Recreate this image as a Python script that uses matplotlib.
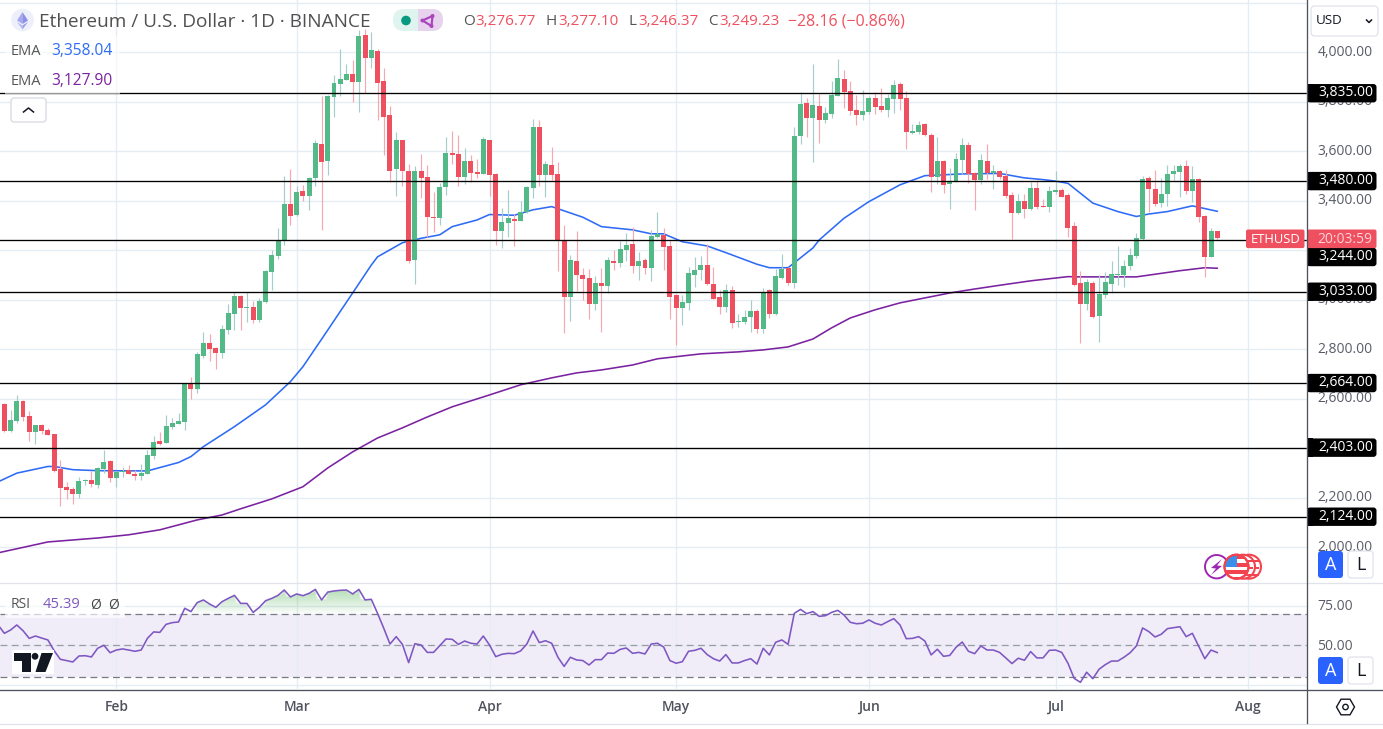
import numpy as np
import pandas as pd
import matplotlib
matplotlib.use('Agg')
import matplotlib.pyplot as plt
from matplotlib.patches import Rectangle, FancyBboxPatch, Circle, Polygon, RegularPolygon

plt.rcParams['font.family'] = ['Open Sans', 'DejaVu Sans']

start_date = '2024-01-14'
opens = [2580,2470,2511,2592,2531,2466,2495,2474,2458,2317,2244,2236,2216,2268,2272,2252,2317,2349,
 2280,2305,2313,2297,2289,2297,2369,2430,2422,2487,2499,2507,2664,2640,2773,2826,2806,2786,2879,2943,3016,2967,2971,2919,2992,3113,3178,3242,3387,
 3343,3440,3420,3492,3630,3561,3820,3872,3889,3913,3880,4070,3977,4006,3884,3747,3529,3646,3521,3161,3521,3497,3335,3331,3456,3594,3589,3497,3561,3517,3509,
 3646,3509,3278,3311,3327,3319,3355,3452,3699,3505,3545,3509,3238,3012,3157,3101,3088,2983,3068,3056,3157,3149,3202,3226,3137,3161,3129,3254,3262,3218,
 3020,2967,2987,3101,3121,3141,3064,3012,2971,3040,2911,2911,2931,2955,2882,3040,2943,3088,3129,3068,3662,3796,3735,3784,3727,3751,3824,3893,3844,3767,3747,
 3759,3816,3784,3767,3812,3873,3816,3675,3679,3711,3666,3497,3561,3468,3481,3565,3626,3513,3485,3561,3513,3521,3501,3424,3351,3400,3367,3452,3380,3376,
 3436,3444,3424,3299,3069,2984,3069,2935,3020,3065,3101,3101,3137,3178,3246,3493,3448,3392,3428,3509,3517,3541,3440,3489,3339,3174,3276.77]
highs = [2585,2555,2616,2596,2551,2495,2497,2483,2460,2353,2264,2244,2285,2275,2309,2325,2394,2353,
 2309,2325,2333,2313,2337,2394,2450,2466,2535,2523,2543,2666,2689,2790,2870,2862,2808,2899,2984,3032,3020,3032,2996,3008,3121,3202,3291,3501,3529,
 3460,3464,3497,3646,3824,3826,3909,4014,3953,3969,4091,4095,4083,4014,3937,3783,3678,3648,3549,3541,3589,3545,3436,3472,3658,3682,3666,3614,3585,3569,3658,
 3648,3511,3371,3444,3347,3400,3460,3731,3727,3561,3618,3557,3303,3181,3278,3129,3125,3097,3129,3173,3202,3238,3270,3295,3194,3169,3282,3355,3291,3242,
 3022,3020,3133,3173,3177,3226,3133,3040,3064,3056,2943,2959,3000,2963,3048,3044,3125,3186,3133,3699,3840,3816,3953,3832,3780,3885,3974,3929,3885,3828,3848,
 3824,3840,3856,3832,3889,3881,3844,3711,3723,3715,3675,3658,3565,3533,3594,3654,3638,3517,3590,3630,3545,3525,3525,3436,3428,3428,3477,3485,3408,3461,
 3521,3452,3432,3315,3117,3085,3077,3101,3113,3157,3218,3161,3210,3271,3501,3501,3525,3493,3545,3545,3549,3566,3541,3493,3343,3291,3277.1]
lows = [2468,2468,2504,2511,2430,2418,2458,2454,2305,2167,2196,2175,2200,2252,2244,2240,2301,2264,
 2244,2285,2297,2272,2272,2297,2357,2414,2420,2478,2497,2474,2600,2624,2765,2753,2721,2765,2862,2879,2879,2911,2907,2911,2988,3040,3166,3222,3303,
 3341,3400,3363,3462,3282,3505,3739,3824,3887,3800,3759,3836,3937,3727,3585,3476,3420,3460,3149,3064,3412,3254,3274,3303,3424,3549,3460,3468,3476,3492,3507,
 3420,3222,3210,3254,3218,3317,3353,3412,3460,3416,3484,3117,2866,2915,3036,3000,2923,2959,2870,3028,3121,3133,3157,3109,3080,3105,3076,3252,3121,2923,
 2818,2899,2959,3052,3080,3062,3002,2943,2951,2886,2890,2903,2870,2866,2866,2927,2939,3086,3060,3048,3630,3658,3557,3634,3715,3735,3822,3776,3747,3707,3727,
 3751,3751,3759,3739,3755,3767,3610,3671,3671,3664,3436,3468,3432,3367,3477,3509,3473,3363,3468,3489,3448,3489,3412,3246,3349,3331,3365,3367,3374,3355,
 3428,3414,3254,3058,2826,2959,2927,2830,3008,3028,3060,3052,3121,3170,3244,3355,3380,3376,3380,3485,3416,3428,3396,3315,3093,3172,3246.37]
closes = [2470,2515,2592,2527,2466,2495,2470,2454,2309,2240,2232,2216,2268,2272,2256,2321,2345,2280,
 2305,2309,2297,2289,2301,2373,2426,2418,2491,2503,2511,2664,2640,2782,2826,2802,2786,2883,2947,3016,2967,2971,2919,2996,3117,3182,3242,3387,3339,
 3436,3420,3492,3634,3557,3824,3876,3893,3913,3880,4066,3977,4010,3876,3739,3521,3646,3521,3157,3521,3492,3335,3331,3456,3594,3585,3497,3561,3513,3509,3650,
 3505,3278,3315,3331,3319,3355,3456,3699,3505,3549,3505,3242,3012,3161,3101,3084,2983,3068,3056,3161,3149,3206,3222,3137,3157,3129,3258,3266,3214,3012,
 2967,2992,3109,3121,3141,3064,3004,2971,3040,2907,2915,2931,2955,2882,3032,2943,3097,3125,3068,3662,3792,3735,3788,3727,3755,3828,3897,3840,3763,3747,3763,
 3816,3780,3767,3816,3869,3812,3679,3683,3707,3666,3497,3561,3464,3481,3570,3626,3509,3485,3565,3513,3521,3497,3420,3351,3400,3367,3452,3376,3376,3440,
 3444,3416,3291,3060,2984,3073,2931,3024,3073,3105,3105,3137,3182,3250,3489,3448,3388,3428,3509,3521,3541,3440,3489,3335,3174,3279,3249.23]

ema_fast_days = [-1,2,7,8,11,15,23,28,30,32,37,42,46,48,51,56,59,60,64,67,70,72,76,78,82,85,88,93,96,101,104,106,109,113,116,121,123,126,130,131,135,139,144,148,154,160,164,167,169,171,175,179,182,184,187,191,195]
ema_fast = [2265,2300,2327,2327,2314,2310,2309,2343,2367,2407,2488,2576,2670,2730,2841,3028,3141,3174,3231,3249,3263,3296,3323,3345,3342,3364,3377,3334,3296,3283,3267,3267,3235,3218,3191,3144,3130,3130,3210,3242,3330,3397,3465,3502,3509,3511,3493,3486,3480,3471,3391,3357,3337,3347,3357,3380,3358.04]
ema_slow_days = [-1,7,15,20,25,31,35,38,43,48,52,56,60,64,68,72,78,83,88,92,96,101,105,112,118,122,126,130,133,136,140,144,148,152,156,160,165,171,173,182,189,193,195]
ema_slow = [1978,2022,2038,2051,2071,2111,2131,2156,2196,2245,2321,2386,2442,2483,2527,2568,2616,2657,2685,2705,2717,2737,2762,2782,2790,2798,2810,2842,2887,2927,2960,2988,3008,3028,3044,3059,3077,3094,3093,3093,3118,3130,3127.9]

rsi_values = [62.9,57.6,59.7,62.9,59.3,54.4,55.9,54.6,53.4,46.6,41.1,40.3,39.4,43.2,43.4,42.6,48.1,50.0,45.3,47.0,47.7,47.0,46.2,47.0,54.4,58.5,58.2,63.3,64.4,64.8,
 73.5,71.4,77.1,78.8,76.2,74.1,77.7,79.8,81.7,76.6,76.6,70.9,74.1,78.3,79.8,81.7,85.1,80.7,82.6,81.5,83.0,85.5,78.8,83.8,84.5,84.9,85.1,82.6,85.5,78.8,79.2,70.3,60.8,50.8,55.5,50.6,39.0,51.0,50.2,45.5,45.5,49.8,54.0,53.8,50.6,
 52.7,51.3,50.8,55.9,50.2,42.8,44.3,44.9,44.7,46.4,50.8,59.1,51.7,52.9,51.3,42.4,36.6,42.4,40.7,40.3,37.5,40.9,40.9,45.1,44.9,47.4,48.3,44.9,45.5,44.5,
 50.8,51.3,48.9,40.3,38.6,39.6,46.2,46.8,48.1,44.1,41.5,40.0,44.1,38.8,38.8,40.3,41.5,38.1,48.1,43.9,51.9,53.4,50.6,70.3,72.8,70.1,71.4,68.4,68.8,70.9,
 72.2,69.2,64.6,63.7,64.0,66.1,64.0,62.9,65.0,66.9,62.9,54.2,54.4,55.5,
 52.7,43.9,47.5,43.0,43.6,48.7,52.1,46.2,44.7,49.6,47.0,47.0,45.5,42.0,38.4,41.8,40.5,46.0,42.0,42.0,46.8,47.0,45.5,38.6,29.0,26.5,32.9,28.8,34.8,37.7,40.0,40.0,42.4,45.3,49.6,61.0,58.7,55.3,57.0,60.6,61.2,61.8,55.5,57.6,49.6,41.5,47.0,45.39]

levels = [3835, 3480, 3244, 3033, 2664, 2403, 2124]
level_label_shift = {3244: 17.5}
price_ticks = [2000,2200,2400,2600,2800,3000,3200,3400,3600,3800,4000,4200]
rsi_ticks = [25, 50, 75]
rsi_bands = [70, 50, 30]
month_dates = ['2024-02-01','2024-03-01','2024-04-01','2024-05-01','2024-06-01','2024-07-01','2024-08-01']
month_labels = ['Feb','Mar','Apr','May','Jun','Jul','Aug']

W, H = 1383, 729
GREEN, RED = '#53B987', '#EF5060'
WG, WR = '#A6CDCA', '#F6A8B2'
GRID = '#E4EDF3'
TXT = '#5A5D68'
BLUE, PURPLE = '#2E6BF6', '#7B22A0'

fig = plt.figure(figsize=(W/100, H/100), dpi=100, facecolor='white')
def box(x0, y0, x1, y1):
    return [x0/W, 1-y1/H, (x1-x0)/W, (y1-y0)/H]

PANE_R = 1306.5
ax = fig.add_axes(box(0, 0, PANE_R, 583))
rs = fig.add_axes(box(0, 584, PANE_R, 689))
ui = fig.add_axes([0, 0, 1, 1], zorder=10)
ui.set_xlim(0, W); ui.set_ylim(H, 0); ui.axis('off'); ui.patch.set_alpha(0)

xlim = (-0.698, 209.35)
t0 = pd.Timestamp(start_date)
month_pos = [(pd.Timestamp(d)-t0).days for d in month_dates]
days = np.arange(len(opens))
o, h, l, c = map(np.array, (opens, highs, lows, closes))
up = c >= o

ax.vlines(days[up], l[up], h[up], color=WG, lw=0.85, zorder=2)
ax.vlines(days[~up], l[~up], h[~up], color=WR, lw=0.85, zorder=2)
ax.bar(days[up], np.abs(c-o)[up], bottom=np.minimum(o, c)[up], width=0.8, color=GREEN, lw=0, zorder=3)
ax.bar(days[~up], np.abs(c-o)[~up], bottom=np.minimum(o, c)[~up], width=0.8, color=RED, lw=0, zorder=3)
ax.plot(ema_fast_days, ema_fast, color=BLUE, lw=1.15, zorder=1.5)
ax.plot(ema_slow_days, ema_slow, color=PURPLE, lw=1.15, zorder=1.5)
for v in levels:
    ax.axhline(v, color='black', lw=0.95, zorder=5)

ymax = 4000 + 52.4/0.2475
ymin = 4000 - (583-52.4)/0.2475
ax.set_xlim(*xlim); ax.set_ylim(ymin, ymax)
ax.set_xticks(month_pos); ax.set_yticks(price_ticks)
ax.grid(True, color=GRID, lw=1.0, zorder=0); ax.set_axisbelow(True)
ax.tick_params(length=0, labelbottom=False, labelleft=False)
for s in ax.spines.values(): s.set_visible(False)

# RSI pane
rsi_x = np.arange(len(rsi_values)) - 1
rsi = np.array(rsi_values)
rs.axhspan(rsi_bands[2], rsi_bands[0], color='#7E57C2', alpha=0.11, lw=0, zorder=0.5)
for i, lev in enumerate(np.arange(70, 89, 1.0)):
    top = np.minimum(rsi, lev+1)
    rs.fill_between(rsi_x, lev, top, where=rsi > lev, interpolate=True, color='#4CAF50',
                    alpha=min(0.42, 0.03+0.40*(i/15)), lw=0, zorder=0.8)
rs.plot(rsi_x, rsi, color='#7E57C2', lw=1.15, zorder=3)
for v, col in zip(rsi_bands, ['#787B86', '#9A9CA5', '#787B86']):
    rs.axhline(v, color=col, lw=0.9, dashes=(5.5, 3.5), zorder=2)
rs.set_xlim(*xlim)
rs.set_ylim(50-(689-645.3)/1.575, 50+(645.3-584)/1.575)
rs.set_xticks(month_pos, month_labels)
rs.set_yticks(rsi_ticks)
rs.grid(True, color=GRID, lw=1.0, zorder=0); rs.set_axisbelow(True)
rs.tick_params(axis='x', length=0, pad=7.6, labelsize=10, labelcolor='#50535E')
for t in rs.get_xticklabels(): t.set_fontweight('semibold')
rs.tick_params(axis='y', length=0, labelleft=False)
for s in rs.spines.values(): s.set_visible(False)

def py(p): return (ymax-p)/(ymax-ymin)*583
def ry(v): return 645.3-(v-50)*1.575

# frame lines
ui.plot([0, W], [583.4, 583.4], color='#E0E3EB', lw=0.9, zorder=1)
ui.plot([0, W], [689.5, 689.5], color='#50535E', lw=0.95, zorder=6)
ui.plot([0, W], [723.5, 723.5], color='#E0E3EB', lw=0.9, zorder=1)
ui.plot([PANE_R, PANE_R], [0, 723], color='#50535E', lw=0.95, zorder=6)
ui.add_patch(Rectangle((PANE_R+0.6, 0), W-PANE_R, 583, color='white', zorder=0.5))
ui.add_patch(Rectangle((PANE_R+0.6, 584), W-PANE_R, 105, color='white', zorder=0.5))

# price scale text
for v in price_ticks[:-1]:
    ui.text(1317.5, py(v), f'{v:,.2f}', fontsize=10, color=TXT, va='center', zorder=2)
for v in rsi_ticks[1:]:
    ui.text(1317.5, ry(v)+1, f'{v:.2f}', fontsize=10, color=TXT, va='center', zorder=2)

# level badges
for v in levels:
    yc = py(v) + level_label_shift.get(v, 0)
    ui.add_patch(FancyBboxPatch((1307, yc-9.2), 69.5, 18.4, boxstyle='round,pad=0,rounding_size=3',
                                fc='black', ec='none', zorder=3))
    ui.add_patch(Rectangle((1307, yc-9.2), 6, 18.4, fc='black', ec='none', zorder=3))
    ui.text(1318, yc-0.5, f'{v:,.2f}', fontsize=10, color='white', va='center', zorder=4)

# last price tag
ui.add_patch(FancyBboxPatch((1246, 229.5), 58.5, 18.6, boxstyle='round,pad=0,rounding_size=2',
                            fc=RED, ec='none', zorder=5))
ui.text(1275.5, 239, 'ETHUSD', fontsize=9.4, color='white', ha='center', va='center', zorder=6)
ui.add_patch(FancyBboxPatch((1307, 229.5), 69.5, 18.6, boxstyle='round,pad=0,rounding_size=2',
                            fc=RED, ec='none', zorder=5))
ui.text(1345, 239, '20:03:59', fontsize=10, color='#FBD3D8', ha='center', va='center', zorder=6)

# header
ui.add_patch(Rectangle((5, 64), 115, 30, fc='white', alpha=0.6, ec='none', zorder=1))
ui.add_patch(Rectangle((5, 36), 115, 28, fc='white', alpha=0.6, ec='none', zorder=1))
ui.add_patch(Circle((22.5, 20), 11.3, fc='#EDEFFA', ec='none'))
ui.add_patch(Polygon([(22.5, 12), (17, 20.5), (22.5, 24)], fc='#A7A9EE', ec='none'))
ui.add_patch(Polygon([(22.5, 12), (28, 20.5), (22.5, 24)], fc='#8C8FE6', ec='none'))
ui.add_patch(Polygon([(17, 22), (22.5, 29.5), (22.5, 25.5)], fc='#B9BBF2', ec='none'))
ui.add_patch(Polygon([(28, 22), (22.5, 29.5), (22.5, 25.5)], fc='#9A9DEA', ec='none'))
ui.text(39, 22, 'Ethereum / U.S. Dollar · 1D · BINANCE', fontsize=13.7, color='#505050', va='center')
ui.add_patch(FancyBboxPatch((393, 9), 50, 22, boxstyle='round,pad=0,rounding_size=11', fc='#DFF3EF', ec='none'))
ui.add_patch(FancyBboxPatch((418, 9), 25, 22, boxstyle='round,pad=0,rounding_size=11', fc='#E8D3EE', ec='none'))
ui.add_patch(Rectangle((418, 9), 10, 22, fc='#E8D3EE', ec='none'))
ui.add_patch(Circle((406, 20.5), 4.8, fc='#089981', ec='none'))
tri = [(422.5, 20.5), (432.5, 16), (431.5, 26)]
ui.add_patch(Polygon(tri, fc='none', ec='#AB47BC', lw=1.6))
for p in tri:
    ui.add_patch(Circle(p, 2.0, fc='#AB47BC', ec='none'))

OHLC = [('O', 463, '3,276.77', 475.5), ('H', 545.5, '3,277.10', 558), ('L', 628, '3,246.37', 638.5), ('C', 708, '3,249.23', 719.5)]
for a, xa, b, xb in OHLC:
    ui.text(xa, 21, a, fontsize=11, color='#555555', va='center')
    ui.text(xb, 21, b, fontsize=11, color='#F0505F', va='center')
ui.text(788, 21, '−28.16 (−0.86%)', fontsize=11.45, color='#F0505F', va='center')

ui.text(11, 51, 'EMA', fontsize=10.5, color='#555555', va='center', zorder=3)
ui.text(51, 51, '3,358.04', fontsize=11.2, color=BLUE, va='center', zorder=3)
ui.text(11, 81, 'EMA', fontsize=10.5, color='#555555', va='center', zorder=3)
ui.text(51, 81, '3,127.90', fontsize=11.2, color=PURPLE, va='center', zorder=3)
ui.add_patch(FancyBboxPatch((11, 98), 35, 24, boxstyle='round,pad=0,rounding_size=3', fc='white', ec='#D5D8E2', lw=0.9, zorder=3))
ui.plot([23.5, 28.5, 33.5], [112, 108, 112], color='#131722', lw=1.1, zorder=4)

ui.add_patch(Rectangle((5, 592), 120, 26, fc='white', alpha=0.65, ec='none', zorder=1))
ui.text(11, 605, 'RSI', fontsize=10, color='#555555', va='center', zorder=3)
ui.text(43, 604.5, '45.39', fontsize=10.6, color='#7E57C2', va='center', zorder=3)
ui.text(90, 605, 'Ø', fontsize=10, color='#444444', va='center', zorder=3)
ui.text(108, 605, 'Ø', fontsize=10, color='#444444', va='center', zorder=3)

# TradingView logo
ui.add_patch(Rectangle((12, 650), 42, 24, fc='white', ec='none', zorder=3))
ui.add_patch(Polygon([(14, 653), (31, 653), (31, 672), (22, 672), (22, 661), (14, 661)], fc='#131722', ec='none', zorder=4))
ui.add_patch(Circle((35, 656.3), 3.4, fc='#131722', ec='none', zorder=4))
ui.add_patch(Polygon([(41.5, 653), (53, 653), (45.5, 672), (35.5, 672)], fc='#131722', ec='none', zorder=4))

# right controls
ui.add_patch(FancyBboxPatch((1311, 6), 67, 30, boxstyle='round,pad=0,rounding_size=4', fc='white', ec='#E0E3EB', lw=0.9, zorder=4))
ui.text(1316, 20.5, 'USD', fontsize=9.6, color='#131722', va='center', zorder=5)
ui.plot([1366.5, 1369, 1371.5], [20, 22.5, 20], color='#131722', lw=1.1, zorder=5)
for y0 in (551, 657):
    ui.add_patch(FancyBboxPatch((1318, y0), 25, 27, boxstyle='round,pad=0,rounding_size=3', fc='#2962FF', ec='none', zorder=7))
    ui.text(1330.5, y0+13.5, 'A', fontsize=13, color='white', ha='center', va='center', zorder=8)
    ui.add_patch(FancyBboxPatch((1348, y0), 25, 27, boxstyle='round,pad=0,rounding_size=3', fc='white', ec='#E0E3EB', lw=0.9, zorder=7))
    ui.text(1360.5, y0+13.5, 'L', fontsize=13, color='#131722', ha='center', va='center', zorder=8)
ui.add_patch(RegularPolygon((1345.5, 707), 6, radius=9, orientation=np.pi/2, fc='white', ec='#131722', lw=1.0, zorder=7))
ui.add_patch(Circle((1345.5, 707), 2.7, fc='white', ec='#131722', lw=1.0, zorder=8))

# event icons
ui.add_patch(Circle((1216.7, 566.7), 11.7, fc='white', ec='#9C27B0', lw=1.4, zorder=3))
ui.add_patch(Polygon([(1222, 559), (1211, 568), (1216, 568.5), (1211, 575), (1222, 566), (1217, 565.5)], fc='#9C27B0', ec='none', zorder=4))
for cx in (1249, 1243):
    ui.add_patch(Circle((cx, 566.7), 12, fc='white', ec='#F2434E', lw=1.5, zorder=4))
    for yy in (559.5, 566.5, 573.5):
        ui.add_patch(Rectangle((cx-1, yy), 11, 2.8, fc='#F2434E', ec='none', zorder=4))
fc = (1236.5, 566.7)
cc = Circle(fc, 12, fc='white', ec='#F2434E', lw=1.5, zorder=5)
ui.add_patch(cc)
for yy in (555, 562.5, 570, 577):
    r = Rectangle((fc[0]-12, yy), 24, 4, fc='#F2434E', ec='none', zorder=5)
    ui.add_patch(r); r.set_clip_path(cc)
r = Rectangle((fc[0]-11.5, 556), 11.5, 11, fc='#3B8FE8', ec='none', zorder=5.5)
ui.add_patch(r); r.set_clip_path(cc)
ui.add_patch(Circle(fc, 12, fc='none', ec='#F2434E', lw=1.5, zorder=6))

fig.savefig('out.png', dpi=100, facecolor='white')
